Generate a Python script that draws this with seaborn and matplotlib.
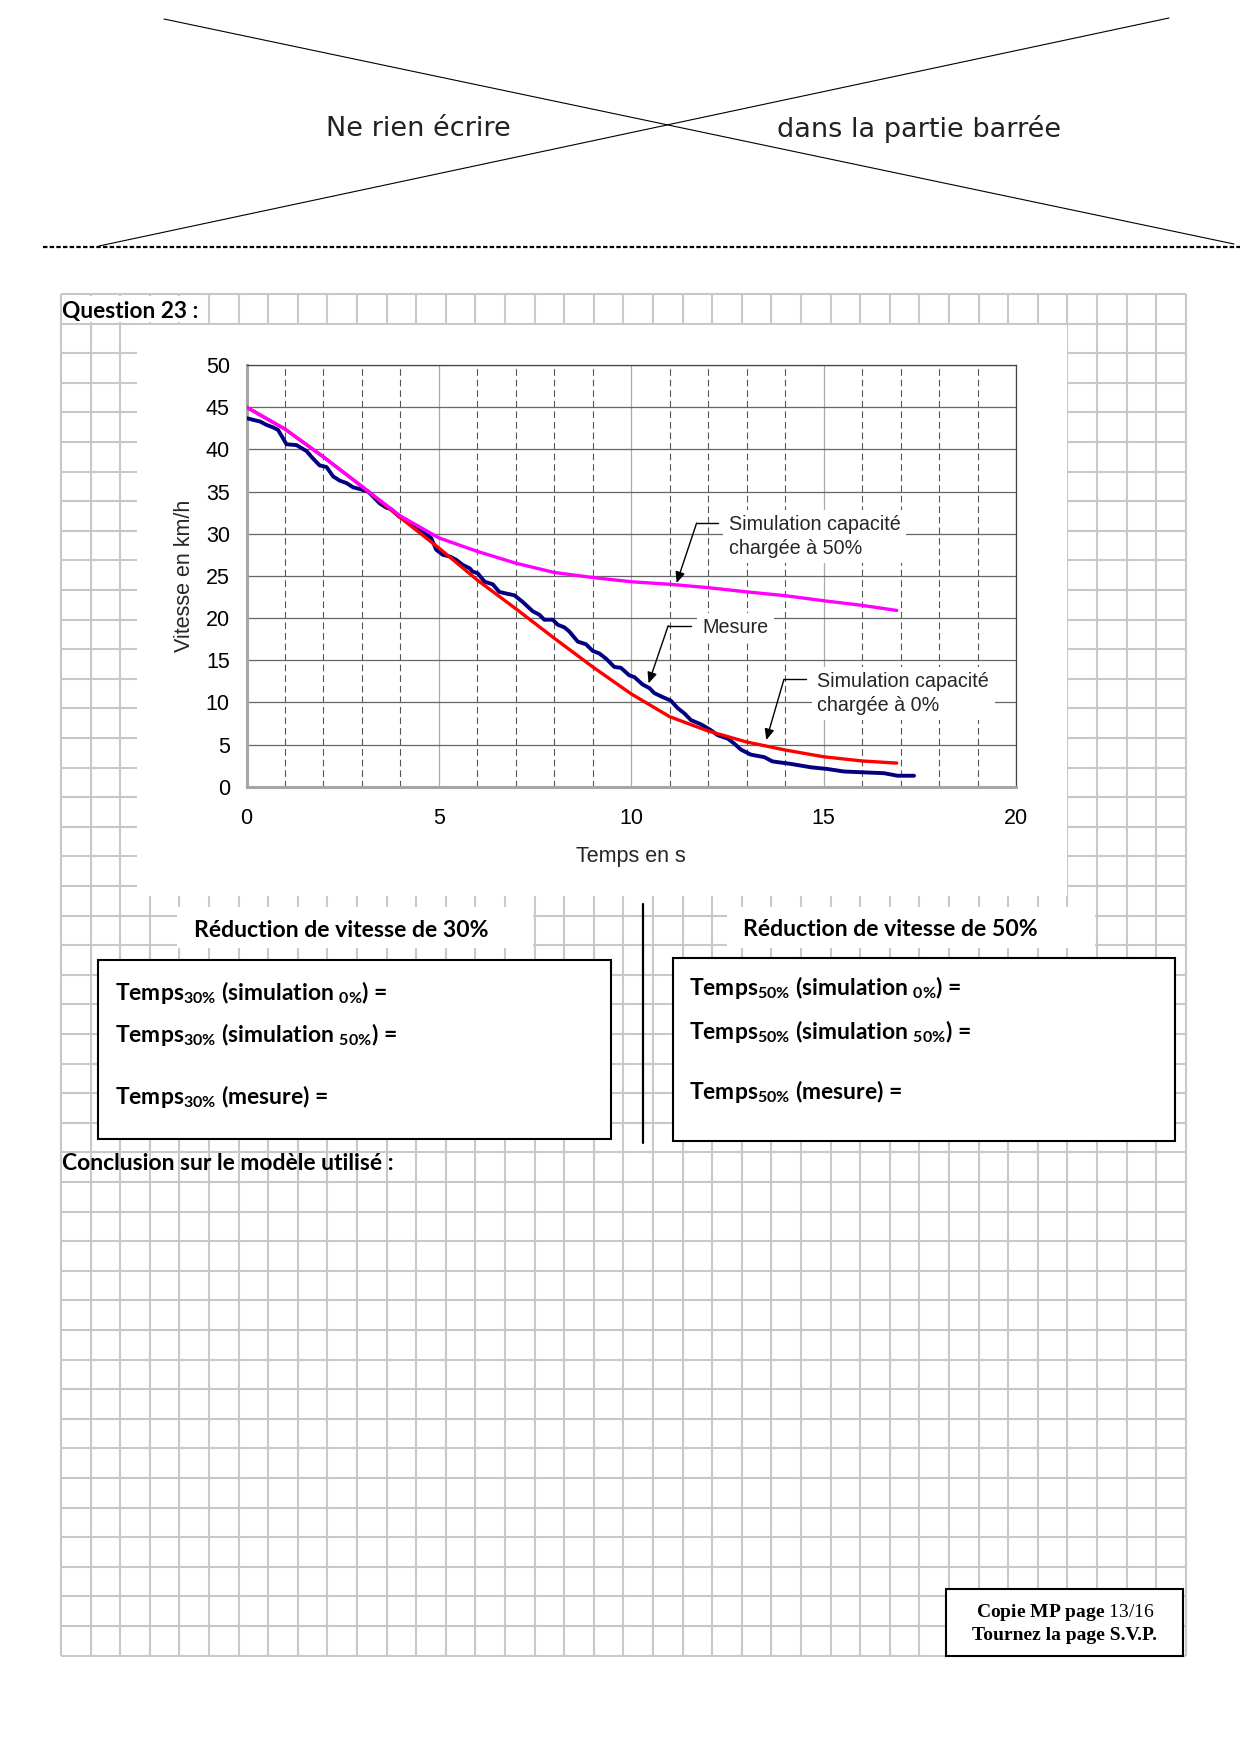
import numpy as np
import pandas as pd
import matplotlib
matplotlib.use("Agg")
import matplotlib.pyplot as plt
import matplotlib.patches as patches
import seaborn as sns

# --- data (t in s, v in km/h) ---
mesure_t = [0, 0.17, 0.35, 0.52, 0.69, 0.82, 0.95, 1.04, 1.30, 1.56, 1.69, 1.90,
            2.08, 2.25, 2.42, 2.60, 2.77, 2.94, 3.16, 3.29, 3.46, 3.63, 3.76, 3.98,
            4.15, 4.33, 4.50, 4.67, 4.80, 4.93, 5.10, 5.28, 5.45, 5.62, 5.80, 5.88,
            6.01, 6.19, 6.40, 6.57, 6.75, 6.96, 7.18, 7.44, 7.61, 7.74, 7.96, 8.09,
            8.26, 8.39, 8.61, 8.82, 9.00, 9.17, 9.34, 9.56, 9.73, 9.95, 10.08, 10.30,
            10.47, 10.60, 10.78, 11.03, 11.21, 11.38, 11.55, 11.81, 12.07, 12.25,
            12.51, 12.68, 12.85, 13.11, 13.46, 13.67, 14.15, 14.67, 15.10, 15.53,
            16.05, 16.57, 16.92, 17.35]
mesure_v = [43.7, 43.5, 43.3, 42.9, 42.6, 42.3, 41.3, 40.6, 40.5, 39.8, 39.1, 38.1,
            37.9, 36.8, 36.3, 36.0, 35.5, 35.3, 35.0, 34.4, 33.6, 33.1, 32.9, 32.0,
            31.6, 31.0, 30.4, 29.9, 29.5, 28.1, 27.5, 27.3, 26.9, 26.3, 25.9, 25.5,
            25.3, 24.3, 24.0, 23.1, 22.9, 22.7, 21.9, 20.8, 20.4, 19.8, 19.8, 19.2,
            18.9, 18.4, 17.2, 16.9, 16.1, 15.8, 15.2, 14.2, 14.1, 13.2, 13.0, 12.1,
            11.7, 11.1, 10.7, 10.2, 9.3, 8.7, 7.9, 7.4, 6.7, 6.1,
            5.7, 5.1, 4.4, 3.8, 3.5, 3.0, 2.7, 2.3, 2.1, 1.8,
            1.7, 1.6, 1.3, 1.3]

sim_t = [0, 1, 2, 3, 4, 5, 6, 7, 8, 9, 10, 11, 12, 13, 14, 15, 16, 16.9]
sim0_v = [45.0, 42.4, 39.1, 35.6, 31.9, 28.3, 24.5, 21.1, 17.6, 14.2, 11.0, 8.3,
          6.6, 5.3, 4.35, 3.55, 3.05, 2.8]
sim50_v = [45.0, 42.4, 39.1, 35.6, 32.1, 29.5, 27.9, 26.5, 25.4, 24.8, 24.3, 24.0,
           23.6, 23.1, 22.65, 22.05, 21.5, 20.9]

x_ticks = [0, 5, 10, 15, 20]
y_ticks = [0, 5, 10, 15, 20, 25, 30, 35, 40, 45, 50]

sns.set_style("white")
plt.rcParams["font.family"] = ["Liberation Sans", "DejaVu Sans"]
plt.rcParams["mathtext.fontset"] = "custom"
plt.rcParams["mathtext.bf"] = "Lato:bold"
plt.rcParams["mathtext.rm"] = "Liberation Serif"

W, H = 1240, 1754
fig = plt.figure(figsize=(12.4, 17.54), dpi=100)

# page background in pixel coordinates
bg = fig.add_axes([0, 0, 1, 1])
bg.set_xlim(0, W)
bg.set_ylim(H, 0)
bg.axis("off")

# crossed-out header
bg.plot([164, 1234], [19, 244], color="black", lw=0.8)
bg.plot([1169, 99], [18, 246], color="black", lw=0.8)
bg.plot([43, 1240], [247, 247], color="black", lw=1.6, ls=(0, (2, 1)))
bg.text(418, 129, "Ne rien écrire", fontsize=19.5, family="DejaVu Sans",
        ha="center", va="center", color="#222222")
bg.text(919, 129, "dans la partie barrée", fontsize=19.5, family="DejaVu Sans",
        ha="center", va="center", color="#222222")

# squared paper
gx = 61 + 29.6 * np.arange(39)
gy = 294 + 29.6 * np.arange(47)
bg.vlines(gx, gy[0], gy[-1], color="#c8c8c8", lw=1.5, zorder=1)
bg.hlines(gy, gx[0], gx[-1], color="#c8c8c8", lw=1.5, zorder=1)

def white(x0, y0, x1, y1, edge=False, z=2):
    bg.add_patch(patches.Rectangle((x0, y0), x1 - x0, y1 - y0, facecolor="white",
                                   edgecolor="black" if edge else "none",
                                   lw=1.5 if edge else 0, zorder=z))

white(62.5, 295.5, 207, 322)
white(137, 325, 1067, 896)
white(177, 907, 533, 948)
white(727, 907, 1095, 948)
white(98, 960, 611, 1139, edge=True, z=3)
white(673, 958, 1175, 1141, edge=True, z=3)
white(946, 1589, 1183, 1656, edge=True, z=3)
bg.plot([643, 643], [904, 1143], color="black", lw=1.6, zorder=3)

bold = dict(family=["Lato", "DejaVu Sans"], fontweight="bold", color="black", zorder=4)
bg.text(62, 318, "Question 23 :", fontsize=16.3, va="baseline", **bold)
bg.text(62, 1170, "Conclusion sur le modèle utilisé :", fontsize=16.5, va="baseline", **bold)
bg.text(341, 937, "Réduction de vitesse de 30%", fontsize=16.6, ha="center", va="baseline", **bold)
bg.text(890, 936, "Réduction de vitesse de 50%", fontsize=16.6, ha="center", va="baseline", **bold)

for x0, ys, pct in [(115, (1000, 1042, 1104), "30"), (689, (995, 1039, 1099), "50")]:
    sub = r"$_{\mathbf{" + pct + r"\%}}$"
    bg.text(x0, ys[0], "Temps" + sub + r" (simulation $_{\mathbf{0\%}}$) =",
            fontsize=16.5, va="baseline", **bold)
    bg.text(x0, ys[1], "Temps" + sub + r" (simulation $_{\mathbf{50\%}}$) =",
            fontsize=16.5, va="baseline", **bold)
    bg.text(x0, ys[2], "Temps" + sub + " (mesure) =",
            fontsize=16.5, va="baseline", **bold)

serif = dict(family="Liberation Serif", fontweight="bold", color="black",
             ha="center", va="baseline", fontsize=14, zorder=4)
bg.text(1065, 1617, r"Copie MP page $\mathrm{13/16}$", **serif)
bg.text(1065, 1640, "Tournez la page S.V.P.", **serif)

# --- the chart ---
ax_l, ax_r, ax_t, ax_b = 246.5, 1016, 365, 786.7
ax = fig.add_axes([ax_l / W, 1 - ax_b / H, (ax_r - ax_l) / W, (ax_b - ax_t) / H])
ax.set_zorder(5)
ax.set_facecolor("white")

sns.lineplot(x=mesure_t, y=mesure_v, color="#000080", lw=2.8, ax=ax,
             estimator=None, sort=False, zorder=3)
sns.lineplot(x=sim_t, y=sim0_v, color="#ff0000", lw=2.4, ax=ax,
             estimator=None, sort=False, zorder=4)
sns.lineplot(x=sim_t, y=sim50_v, color="#ff00ff", lw=2.4, ax=ax,
             estimator=None, sort=False, zorder=5)

ax.set_xlim(0, 20)
ax.set_ylim(0, 50)
ax.set_xticks(x_ticks)
ax.set_yticks(y_ticks)
ax.set_xticks([t for t in range(1, 20) if t % 5], minor=True)
ax.grid(which="major", axis="y", color="#666666", lw=0.9)
ax.grid(which="major", axis="x", color="#aaaaaa", lw=0.9)
ax.grid(which="minor", axis="x", color="#555555", lw=0.8, ls=(0, (6, 3.5)))
ax.set_axisbelow(True)
ax.tick_params(which="minor", length=0)
ax.tick_params(which="major", length=4, width=1.3, color="#a0a0a0",
               labelsize=15.5, labelcolor="black", direction="out")
ax.tick_params(axis="y", pad=8)
ax.tick_params(axis="x", pad=11)
for side in ["left", "bottom"]:
    ax.spines[side].set_color("#a6a6a6")
    ax.spines[side].set_linewidth(2.2)
for side in ["top", "right"]:
    ax.spines[side].set_color("#444444")
    ax.spines[side].set_linewidth(0.9)

ax.set_xlabel("Temps en s", fontsize=15.5, va="center")
ax.xaxis.set_label_coords(0.5, -0.165)
ax.set_ylabel("Vitesse en km/h", fontsize=15.5, va="center", ha="center")
ax.yaxis.set_label_coords(-0.080, 0.5)

# leader-line callouts
notes = [
    ("Simulation capacité\nchargée à 50%", (12.53, 29.67), (12.25, 31.27), (11.70, 31.27), (11.18, 24.16)),
    ("Mesure", (11.86, 18.85), (11.56, 19.09), (10.96, 19.09), (10.45, 12.26)),
    ("Simulation capacité\nchargée à 0%", (14.84, 11.03), (14.55, 12.74), (13.97, 12.74), (13.51, 5.54)),
]
for label, txt, start, elbow, tip in notes:
    ax.text(txt[0], txt[1], label, fontsize=14.2, ha="left", va="center",
            linespacing=1.3, zorder=6,
            bbox=dict(facecolor="white", edgecolor="none", pad=4))
    ax.plot([start[0], elbow[0]], [start[1], elbow[1]], color="black", lw=1, zorder=6)
    ax.annotate("", xy=tip, xytext=elbow, zorder=6,
                arrowprops=dict(arrowstyle="-|>,head_length=0.5,head_width=0.22",
                                mutation_scale=13, color="black", lw=1,
                                shrinkA=0, shrinkB=0))

fig.savefig("out.png", dpi=100)
